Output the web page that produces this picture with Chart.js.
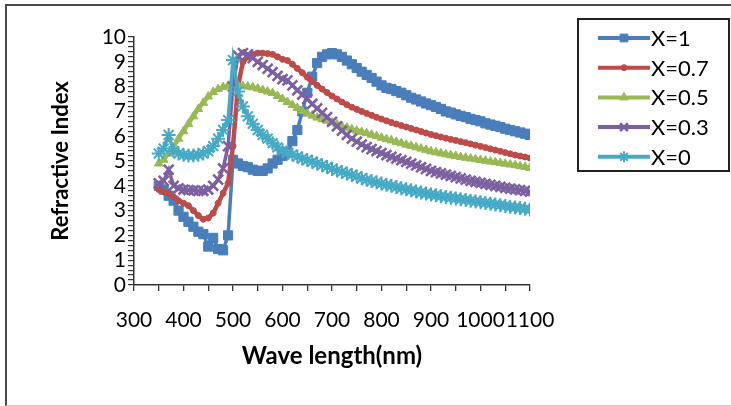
<!DOCTYPE html>
<html>
<head>
<meta charset="utf-8">
<script src="https://cdn.jsdelivr.net/npm/chart.js@4/dist/chart.umd.min.js"></script>
<style>
  html, body { margin: 0; padding: 0; background: #fff; }
  #wrap { position: relative; width: 731px; height: 406px; overflow: hidden; }
  #frame {
    position: absolute; left: 5px; top: 4px; width: 760px; height: 399px;
    border-top: 2px solid #4a4a4a; border-left: 2px solid #4a4a4a;
    border-bottom: 1px solid #c8c8c8; pointer-events: none;
  }
  canvas { position: absolute; left: 0; top: 0; }
</style>
</head>
<body>
<div id="wrap">
  <canvas id="chart" width="731" height="406"></canvas>
  <div id="frame"></div>
</div>
<script>
// Wavelength samples (nm)
const wavelengths = [
  350, 360, 370, 380, 390, 400, 410, 420, 430, 440,
  450, 460, 470, 480, 490, 500, 510, 520, 530, 540,
  550, 560, 570, 580, 590, 600, 610, 620, 630, 640,
  650, 660, 670, 680, 690, 700, 710, 720, 730, 740,
  750, 760, 770, 780, 790, 800, 810, 820, 830, 840,
  850, 860, 870, 880, 890, 900, 910, 920, 930, 940,
  950, 960, 970, 980, 990, 1000, 1010, 1020, 1030, 1040,
  1050, 1060, 1070, 1080, 1090, 1100
];

// Refractive index for each composition
const nX1 = [
  4.0, 3.85, 3.6, 3.4, 3.0, 2.75, 2.55, 2.35, 2.15, 2.05,
  1.55, 1.9, 1.45, 1.4, 2.0, 5.05, 4.9, 4.8, 4.75, 4.65,
  4.6, 4.6, 4.7, 4.9, 5.05, 5.2, 5.35, 5.8, 6.25, 7.0,
  7.75, 8.4, 8.95, 9.2, 9.3, 9.35, 9.3, 9.2, 9.05, 8.9,
  8.75, 8.6, 8.47, 8.35, 8.2, 8.05, 7.95, 7.9, 7.82, 7.75,
  7.65, 7.55, 7.48, 7.4, 7.32, 7.25, 7.18, 7.1, 7.0, 6.95,
  6.88, 6.82, 6.77, 6.7, 6.65, 6.6, 6.52, 6.47, 6.42, 6.37,
  6.3, 6.25, 6.2, 6.15, 6.1, 6.05
];
const nX07 = [
  3.85, 3.75, 3.7, 3.55, 3.4, 3.3, 3.2, 3.0, 2.8, 2.65,
  2.7, 2.9, 3.3, 3.7, 4.1, 5.6, 8.0, 9.0, 9.2, 9.3,
  9.35, 9.35, 9.33, 9.3, 9.2, 9.1, 9.05, 8.9, 8.73, 8.56,
  8.38, 8.21, 8.05, 7.9, 7.76, 7.62, 7.5, 7.38, 7.27, 7.17,
  7.08, 7.0, 6.92, 6.84, 6.76, 6.69, 6.62, 6.55, 6.49, 6.43,
  6.37, 6.31, 6.25, 6.19, 6.13, 6.07, 6.02, 5.97, 5.92, 5.87,
  5.83, 5.78, 5.74, 5.69, 5.64, 5.59, 5.54, 5.49, 5.44, 5.39,
  5.34, 5.29, 5.24, 5.2, 5.16, 5.12
];
const nX05 = [
  4.9, 5.05, 5.3, 5.55, 5.9, 6.2, 6.5, 6.8, 7.1, 7.35,
  7.6, 7.78, 7.9, 7.98, 8.03, 8.06, 8.05, 8.02, 8.0, 7.97,
  7.92, 7.86, 7.8, 7.74, 7.62, 7.5, 7.38, 7.26, 7.14, 7.02,
  6.92, 6.83, 6.75, 6.68, 6.62, 6.55, 6.48, 6.41, 6.34, 6.28,
  6.22, 6.17, 6.12, 6.06, 6.0, 5.94, 5.88, 5.83, 5.77, 5.72,
  5.66, 5.61, 5.55, 5.5, 5.45, 5.39, 5.35, 5.31, 5.27, 5.23,
  5.2, 5.16, 5.13, 5.1, 5.07, 5.04, 5.01, 4.98, 4.95, 4.92,
  4.89, 4.86, 4.83, 4.79, 4.76, 4.72
];
const nX03 = [
  4.1, 4.2, 4.65, 4.0, 3.9, 3.85, 3.83, 3.82, 3.8, 3.8,
  3.85, 4.0, 4.25, 4.7, 5.6, 8.0, 9.25, 9.35, 9.3, 9.15,
  9.0, 8.87, 8.72, 8.58, 8.43, 8.3, 8.25, 8.05, 7.85, 7.68,
  7.5, 7.3, 7.12, 6.94, 6.77, 6.58, 6.4, 6.22, 6.05, 5.9,
  5.78, 5.66, 5.56, 5.48, 5.4, 5.32, 5.24, 5.17, 5.1, 5.03,
  4.96, 4.89, 4.82, 4.75, 4.68, 4.6, 4.55, 4.5, 4.45, 4.4,
  4.35, 4.3, 4.25, 4.2, 4.16, 4.12, 4.08, 4.04, 4.0, 3.96,
  3.92, 3.89, 3.86, 3.83, 3.8, 3.76
];
const nX0 = [
  5.3, 5.5, 6.05, 5.4, 5.3, 5.25, 5.22, 5.22, 5.25, 5.3,
  5.4, 5.6, 5.9, 6.25, 6.65, 9.07, 7.8, 7.2, 6.8, 6.5,
  6.25, 6.05, 5.9, 5.72, 5.55, 5.42, 5.33, 5.26, 5.18, 5.1,
  5.04, 4.97, 4.9, 4.83, 4.76, 4.68, 4.62, 4.56, 4.5, 4.44,
  4.38, 4.3, 4.24, 4.19, 4.14, 4.09, 4.04, 4.0, 3.95, 3.9,
  3.86, 3.82, 3.77, 3.73, 3.69, 3.65, 3.62, 3.58, 3.55, 3.52,
  3.49, 3.46, 3.43, 3.4, 3.37, 3.34, 3.31, 3.28, 3.25, 3.22,
  3.19, 3.16, 3.13, 3.1, 3.07, 3.04
];

const seriesNames = ['X=1', 'X=0.7', 'X=0.5', 'X=0.3', 'X=0'];
const seriesValues = [nX1, nX07, nX05, nX03, nX0];
const seriesColors = ['#4A7EBB', '#BE4B48', '#98B954', '#7D60A0', '#46AAC5'];
const seriesMarkers = ['rect', 'circle', 'triangle', 'crossRot', 'star'];
const markerRadius = [6.5, 3, 5, 7, 7];
const markerBorder = [1, 1, 1, 2.6, 2];
const lineWidths = [3.5, 4.5, 4, 3.5, 3.5];

const xTicks = { min: 300, max: 1100, step: 50, labelEvery: 100 };
const yTicks = { min: 0, max: 10, step: 0.2 };

const FONT = 'Lato, "Open Sans", "Liberation Sans", sans-serif';

const datasets = seriesNames.map((name, i) => ({
  label: name,
  data: wavelengths.map((w, k) => ({ x: w, y: seriesValues[i][k] })),
  borderColor: seriesColors[i],
  backgroundColor: seriesColors[i],
  pointBackgroundColor: seriesColors[i],
  pointBorderColor: seriesColors[i],
  pointStyle: seriesMarkers[i],
  pointRadius: markerRadius[i],
  pointBorderWidth: markerBorder[i],
  borderWidth: lineWidths[i],
  tension: 0,
  order: seriesNames.length - i
}));

// Boxed legend on the right of the plot
const boxLegend = {
  id: 'boxLegend',
  afterDraw(chart) {
    const ctx = chart.ctx;
    const box = { x: 578, y: 19, w: 151, h: 152 };
    ctx.save();
    ctx.strokeStyle = '#222';
    ctx.lineWidth = 2;
    ctx.strokeRect(box.x, box.y, box.w, box.h);
    chart.data.datasets.forEach((ds, i) => {
      const cy = 38 + i * 29.7;
      ctx.strokeStyle = ds.borderColor;
      ctx.lineWidth = 4;
      ctx.beginPath();
      ctx.moveTo(598, cy);
      ctx.lineTo(650, cy);
      ctx.stroke();
      ctx.fillStyle = ds.pointBackgroundColor;
      ctx.strokeStyle = ds.pointBorderColor;
      ctx.lineWidth = ds.pointBorderWidth;
      Chart.helpers.drawPoint(ctx, {
        pointStyle: ds.pointStyle,
        radius: Math.min(ds.pointRadius, 5.5),
        borderWidth: ds.pointBorderWidth,
        rotation: 0
      }, 624, cy);
      ctx.fillStyle = '#000';
      ctx.font = '22px ' + FONT;
      ctx.textAlign = 'left';
      ctx.textBaseline = 'middle';
      ctx.fillText(ds.label, 651, cy + 1);
    });
    ctx.restore();
  }
};

new Chart(document.getElementById('chart'), {
  type: 'line',
  data: { datasets },
  plugins: [boxLegend],
  options: {
    responsive: false,
    animation: false,
    layout: { padding: { left: 48, right: 201, top: 37, bottom: 35 } },
    plugins: { legend: { display: false }, tooltip: { enabled: false } },
    scales: {
      x: {
        type: 'linear',
        min: xTicks.min,
        max: xTicks.max,
        afterFit(scale) { scale.height = 371 - 285; },
        grid: { drawOnChartArea: false, drawTicks: true, tickLength: 6, color: '#333', lineWidth: 1.3 },
        border: { display: true, color: '#333', width: 1.5 },
        ticks: {
          stepSize: xTicks.step,
          autoSkip: false,
          maxRotation: 0,
          padding: 17,
          color: '#000',
          font: { family: FONT, size: 21 },
          callback: (v) => (v % xTicks.labelEvery === 0 ? String(v) : '')
        },
        title: {
          display: true,
          text: 'Wave length(nm)',
          color: '#000',
          padding: { top: 0, bottom: 0 },
          font: { family: FONT, size: 24, weight: 'bold' }
        }
      },
      y: {
        type: 'linear',
        min: yTicks.min,
        max: yTicks.max,
        afterFit(scale) { scale.width = 134 - 48; },
        grid: { drawOnChartArea: false, drawTicks: true, tickLength: 6, color: '#333', lineWidth: 1.2 },
        border: { display: true, color: '#333', width: 1.5 },
        ticks: {
          stepSize: yTicks.step,
          maxTicksLimit: 100,
          autoSkip: false,
          padding: 2,
          color: '#000',
          font: { family: FONT, size: 21 },
          callback: (v) => (Math.abs(v - Math.round(v)) < 1e-6 ? String(Math.round(v)) : '')
        },
        title: {
          display: true,
          text: 'Refractive Index',
          color: '#000',
          padding: { top: 0, bottom: 0 },
          font: { family: FONT, size: 22, weight: 'bold' }
        }
      }
    }
  }
});
</script>
</body>
</html>
